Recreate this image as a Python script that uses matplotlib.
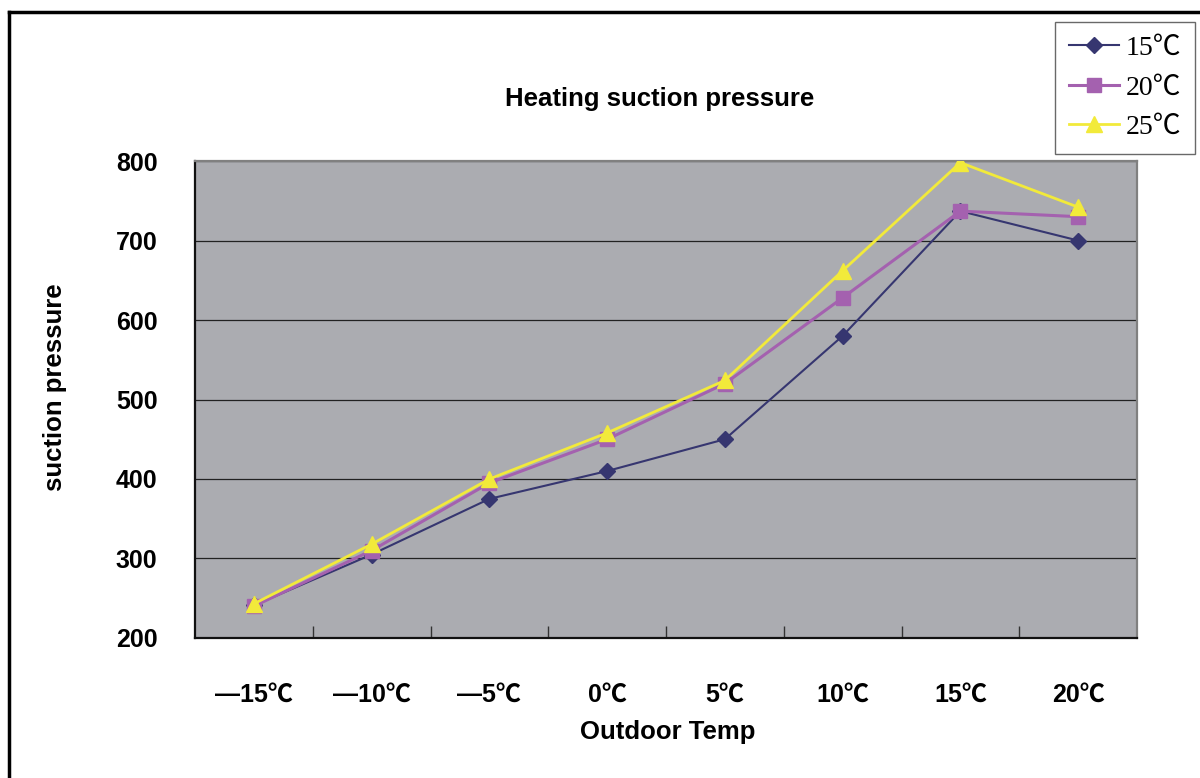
import matplotlib
matplotlib.use("Agg")
import matplotlib.pyplot as plt
from matplotlib.lines import Line2D
from matplotlib.ticker import FixedLocator, NullFormatter

categories = ["—15℃", "—10℃", "—5℃", "0℃", "5℃", "10℃", "15℃", "20℃"]
series_names = ["15℃", "20℃", "25℃"]
s15 = [241, 305, 375, 410, 450, 580, 737, 700]
s20 = [240, 310, 395, 450, 520, 628, 737, 730]
s25 = [243, 318, 400, 458, 524, 662, 798, 742]
yticks = [200, 300, 400, 500, 600, 700, 800]

sans = ["Liberation Sans Narrow", "Liberation Sans", "Noto Sans CJK SC", "DejaVu Sans"]
serif = ["Liberation Serif", "Noto Sans CJK SC", "DejaVu Serif"]

fig = plt.figure(figsize=(12, 7.78), dpi=100)
ax = fig.add_axes([0.1625, 0.18, 0.785, 0.613])
ax.set_facecolor("#ABACB1")

x = list(range(len(categories)))
colors = ["#363670", "#A461AF", "#F2EA3A"]
markers = ["D", "s", "^"]
msizes = [8, 10, 11]
lws = [1.5, 2.2, 2.0]
for vals, name, c, m, ms, lw in zip([s15, s20, s25], series_names, colors, markers, msizes, lws):
    ax.plot(x, vals, color=c, marker=m, markersize=ms, linewidth=lw, label=name,
            markeredgecolor=c, zorder=3)

ax.set_xlim(-0.5, len(categories) - 0.5)
ax.set_ylim(200, 800)
ax.set_yticks(yticks)
ax.set_yticklabels([str(v) for v in yticks], fontsize=18, fontweight="bold", family=sans)
ax.yaxis.grid(True, color="#222222", linewidth=0.9)
ax.tick_params(axis="y", length=0, pad=27)

ax.set_xticks(x)
ax.set_xticklabels(categories, fontsize=18, fontweight="bold", family=sans)
ax.tick_params(axis="x", which="major", length=0, pad=32)
ax.xaxis.set_minor_locator(FixedLocator([i + 0.5 for i in range(len(categories) - 1)]))
ax.xaxis.set_minor_formatter(NullFormatter())
ax.tick_params(axis="x", which="minor", direction="in", length=9, width=1, color="#333333")

for s in ["left", "bottom"]:
    ax.spines[s].set_color("#111111")
    ax.spines[s].set_linewidth(1.6)
for s in ["top", "right"]:
    ax.spines[s].set_color("#808080")
    ax.spines[s].set_linewidth(1.6)

fig.text(0.55, 0.873, "Heating suction pressure", ha="center", va="center",
         fontsize=18.5, fontweight="bold", family=sans)
fig.text(0.046, 0.502, "suction pressure", ha="center", va="center", rotation=90,
         fontsize=18.5, fontweight="bold", family=sans)
fig.text(0.556, 0.059, "Outdoor Temp", ha="center", va="center",
         fontsize=18.5, fontweight="bold", family=sans)

leg = fig.legend(loc="upper right", bbox_to_anchor=(0.996, 0.972), prop={"family": serif, "size": 20},
                 frameon=True, fancybox=False, edgecolor="#444444", handlelength=1.8,
                 labelspacing=0.5, borderpad=0.5, handletextpad=0.25, borderaxespad=0.0)
leg.get_frame().set_linewidth(1.0)

fig.add_artist(Line2D([0.0075, 0.0075], [0.0, 0.985], transform=fig.transFigure, color="black", linewidth=2.5))
fig.add_artist(Line2D([0.0075, 1.0], [0.985, 0.985], transform=fig.transFigure, color="black", linewidth=2.5))

fig.savefig("out.png", dpi=100)
